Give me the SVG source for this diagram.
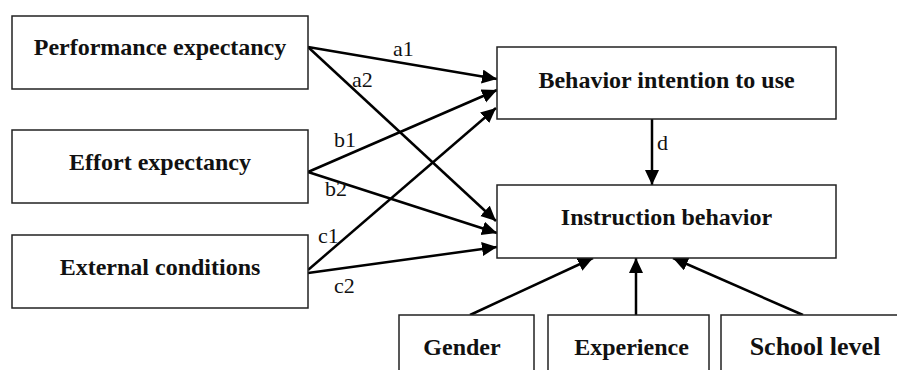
<svg xmlns="http://www.w3.org/2000/svg" width="897" height="370" viewBox="0 0 897 370">
<defs>
<style>
.box{fill:#fff;stroke:#222;stroke-width:1.5}
.t{font-family:"Liberation Serif","Times New Roman",serif;font-weight:bold;font-size:24px;fill:#111;text-anchor:middle}
.lbl{font-family:"Liberation Serif","Times New Roman",serif;font-size:22px;fill:#111}
.c{stroke:#000;stroke-width:2.5;fill:none;marker-end:url(#ah)}
</style>
<marker id="ah" markerUnits="userSpaceOnUse" markerWidth="16" markerHeight="16" refX="15" refY="7" orient="auto">
<path d="M0,0 L15,7 L0,14 Z" fill="#000"/>
</marker>
</defs>
<rect width="897" height="370" fill="#fff"/>
<g id="connectors">
<line class="c" x1="308" y1="47" x2="497" y2="79"/>
<line class="c" x1="308" y1="47" x2="496" y2="221"/>
<line class="c" x1="308" y1="172" x2="497" y2="90"/>
<line class="c" x1="308" y1="172" x2="497" y2="233"/>
<line class="c" x1="308" y1="270" x2="496" y2="108"/>
<line class="c" x1="308" y1="273" x2="497" y2="247"/>
<line class="c" x1="652" y1="119" x2="652" y2="185"/>
<line class="c" x1="470" y1="315" x2="593" y2="258"/>
<line class="c" x1="636" y1="315" x2="636" y2="258"/>
<line class="c" x1="803" y1="315" x2="673" y2="258"/>
<text class="lbl" x="393" y="56">a1</text>
<text class="lbl" x="352" y="87">a2</text>
<text class="lbl" x="334" y="147">b1</text>
<text class="lbl" x="325" y="196">b2</text>
<text class="lbl" x="318" y="243">c1</text>
<text class="lbl" x="334" y="293">c2</text>
<text class="lbl" x="657" y="150">d</text>
</g>
<g id="perf"><rect class="box" x="12" y="16" width="296" height="73"/><text class="t" x="160" y="55">Performance expectancy</text></g>
<g id="effort"><rect class="box" x="12" y="130" width="296" height="73"/><text class="t" x="160" y="170">Effort expectancy</text></g>
<g id="external"><rect class="box" x="12" y="235" width="296" height="73"/><text class="t" x="160" y="275">External conditions</text></g>
<g id="intention"><rect class="box" x="497" y="47" width="339" height="72"/><text class="t" x="666.5" y="88">Behavior intention to use</text></g>
<g id="instruction"><rect class="box" x="497" y="185" width="339" height="73"/><text class="t" x="666.5" y="225">Instruction behavior</text></g>
<g id="gender"><rect class="box" x="399" y="315" width="135" height="80"/><text class="t" x="462" y="355">Gender</text></g>
<g id="experience"><rect class="box" x="548" y="315" width="161" height="80"/><text class="t" x="631.5" y="355">Experience</text></g>
<g id="school"><rect class="box" x="721" y="315" width="190" height="80"/><text class="t" x="815" y="355" style="font-size:26px">School level</text></g>
</svg>
